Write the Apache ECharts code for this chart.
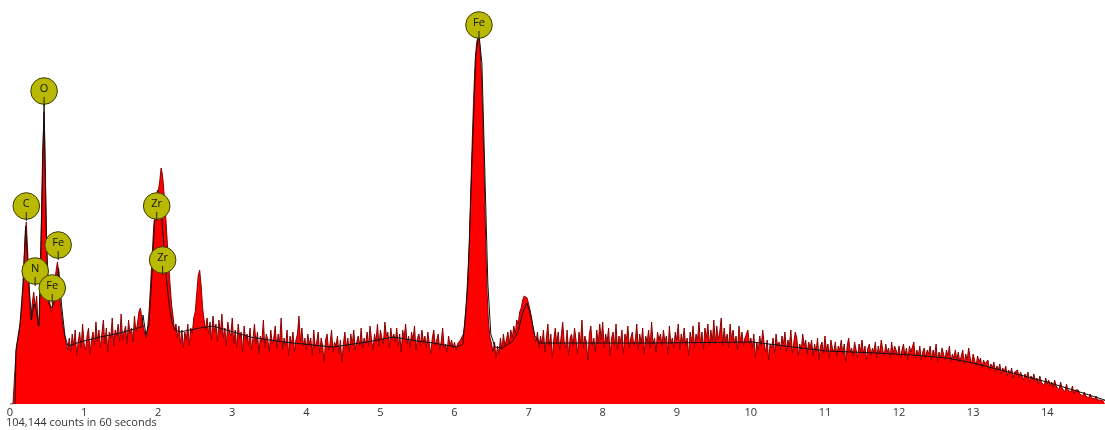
<!DOCTYPE html>
<html>
<head>
<meta charset="utf-8">
<script src="https://cdn.jsdelivr.net/npm/echarts@6/dist/echarts.min.js"></script>
<style>
html,body{margin:0;padding:0;background:#fff;}
#chart{width:1105px;height:430px;}
</style>
</head>
<body>
<div id="chart"></div>
<script>
// Channel width of the spectrum (keV)
const channelWidthKeV = 0.02;
// Spectrum counts (relative), one value per channel starting at 0 keV
const spectrumCounts = [
0,0,0,0,50,62,70,82,98,120,160,182,150,110,84,100,112,96,108,78,90,170,250,292,220,140,108,100,92,104,118,132,142,130,100,88,76,68,60,54,
66,52,70,58,74,48,62,72,56,80,60,54,68,76,50,64,72,58,82,62,
74,56,70,84,60,76,52,72,66,86,58,74,68,80,62,90,64,72,78,60,
84,70,76,62,88,72,80,92,96,86,
84,70,66,78,96,122,150,178,192,205,212,222,236,228,210,190,165,140,120,100,
88,74,80,66,78,60,74,56,72,64,80,58,76,70,86,92,110,128,134,118,
96,84,74,86,70,82,64,88,72,80,
62,84,70,90,66,76,58,82,72,68,86,60,74,56,80,66,72,52,78,64,
70,58,76,54,66,80,60,72,50,68,62,84,56,70,64,52,74,60,66,78,
56,70,62,86,54,66,58,74,48,68,60,72,52,64,70,88,62,76,58,66,
54,70,60,66,48,74,56,62,72,50,66,58,42,64,70,54,60,74,52,62,
58,68,50,64,42,60,72,56,66,52,70,60,74,54,62,68,58,76,56,66,
60,72,58,78,64,54,70,62,80,58,74,66,60,82,68,72,56,76,64,70,
62,76,58,70,52,74,66,80,60,68,56,72,64,78,54,66,70,58,74,62,
68,56,72,60,50,66,74,58,64,70,54,62,76,56,60,52,68,58,64,56,62,54,60,58,64,
64,70,80,100,130,160,215,265,310,345,362,368,360,335,290,230,165,110,80,66,
60,52,62,46,58,50,66,54,70,58,64,72,60,74,66,78,70,84,80,92,
96,104,108,110,106,100,94,86,76,68,62,72,56,68,60,
74,52,66,80,58,70,46,64,76,60,72,54,68,82,62,56,74,48,66,70,
58,76,64,50,72,60,84,56,68,62,44,70,78,58,66,52,74,60,80,64,
82,56,70,62,76,48,66,72,58,80,54,68,62,74,50,70,64,78,56,66,
72,58,64,80,54,70,60,76,50,68,62,74,56,82,60,66,52,72,64,70,
58,74,62,68,50,78,60,66,56,72,64,80,54,70,62,76,58,66,48,72,
62,78,56,70,64,82,60,72,54,76,66,80,58,74,62,84,60,78,64,72,
86,58,76,62,70,56,80,64,74,60,68,54,78,62,72,58,66,64,74,60,
66,56,70,46,62,54,68,58,74,60,52,64,44,60,56,66,50,70,58,62,
54,68,60,72,52,64,58,74,50,62,72,66,48,60,54,70,58,64,50,62,
56,64,48,60,52,66,44,58,62,50,68,54,60,46,64,56,52,62,48,58,
54,64,50,60,42,58,66,52,56,48,62,54,46,60,52,64,50,58,44,56,
60,48,56,52,62,46,58,50,64,54,48,60,52,56,46,62,50,58,54,48,
58,46,54,60,48,56,44,58,52,50,62,46,54,48,58,44,52,56,46,54,
50,58,44,54,48,60,42,52,46,56,50,44,54,48,58,42,50,46,54,44,
52,42,48,54,40,50,44,56,46,40,50,44,38,48,42,46,36,44,40,38,
44,34,40,36,42,32,38,34,40,30,36,32,38,28,34,30,36,26,32,30,
34,26,32,28,24,30,26,32,22,28,24,30,22,26,20,28,22,24,18,26,
20,24,18,22,16,24,18,20,14,22,16,18,12,20,14,16,12,18,10,14,
12,14,10,12,8,12,8,10,6,10,6,8,5,8,4,6,4,5,3,4
];
// Fitted curve (keV, counts)
const fitKeV = [0.07,0.08,0.135,0.175,0.21,0.256,0.29,0.324,0.35,0.39,0.425,0.46,0.49,0.526,0.567,0.607,0.655,0.70,0.742,0.783,
0.945,1.215,1.484,1.727,1.78,1.795,1.835,1.876,1.916,1.957,1.99,2.024,2.065,2.105,2.146,2.186,2.227,2.294,2.564,2.74,
3.24,3.684,4.36,4.818,5.169,5.493,5.709,6.032,6.113,6.18,6.235,6.289,6.33,6.37,6.41,6.45,6.49,6.545,6.64,6.775,
6.856,6.923,6.977,7.031,7.085,7.152,8.77,10.027,10.567,11.026,11.70,12.186,12.645,12.996,13.536,13.995,14.44,14.777];
const fitCounts = [0,54,80,120,178,120,84,100,95,78,180,300,170,100,96,104,136,96,68,58,
62,67,71,76,77,89,69,80,130,190,214,205,170,130,100,82,74,72,76,78,
67,62,57,62,67,63,61,57,60,120,240,350,370,340,230,120,70,57,56,62,
72,92,101,88,68,61,61,62,57,53,51,49,46,41,31,22,12,4];
// Element peak labels: name, circle centre (keV, counts)
const peakNames = ['Fe','O','C','Fe','N','Fe','Zr','Zr'];
const peakKeV = [6.33,0.46,0.22,0.65,0.34,0.57,1.98,2.06];
const peakCounts = [379,313,198,159,133,116,198,144];
// Axis ticks
const tickValues = [0,1,2,3,4,5,6,7,8,9,10,11,12,13,14];
const footerText = '104,144 counts in 60 seconds';

const spectrumData = spectrumCounts.map((v, i) => [+(i * channelWidthKeV).toFixed(3), v]);
const fitData = fitKeV.map((e, i) => [e, fitCounts[i]]);
const peakData = peakNames.map((n, i) => [peakKeV[i], peakCounts[i], n]);

const FONT = '"Open Sans", "Noto Sans", sans-serif';
const chart = echarts.init(document.getElementById('chart'), null, {renderer: 'canvas'});
chart.setOption({
  animation: false,
  backgroundColor: '#fff',
  grid: {left: 10, right: 0, top: 0, bottom: 26, containLabel: false},
  xAxis: {
    type: 'value', min: 0, max: 14.78, interval: 1,
    axisLine: {show: false}, axisTick: {show: false}, splitLine: {show: false},
    axisLabel: {
      show: true, margin: 3, color: '#333', fontSize: 11, fontFamily: FONT,
      showMaxLabel: false,
      formatter: v => tickValues.indexOf(Math.round(v)) >= 0 && Math.abs(v - Math.round(v)) < 1e-6 ? String(Math.round(v)) : ''
    }
  },
  yAxis: {
    type: 'value', min: 0, max: 404, show: false,
    splitLine: {show: false}
  },
  series: [
    {
      type: 'line', data: spectrumData, symbol: 'none', sampling: null,
      lineStyle: {color: '#8a0000', width: 1},
      areaStyle: {color: '#ff0000', opacity: 1},
      z: 2
    },
    {
      type: 'line', data: fitData, symbol: 'none', smooth: false,
      lineStyle: {color: '#111', width: 1},
      z: 3
    },
    {
      type: 'custom', data: peakData, z: 10, clip: false,
      renderItem: function (params, api) {
        const p = api.coord([api.value(0), api.value(1)]);
        const name = peakNames[params.dataIndex];
        return {
          type: 'group',
          children: [
            {type: 'circle', shape: {cx: p[0], cy: p[1], r: 13.3},
             style: {fill: '#b8b900', stroke: '#3d3d05', lineWidth: 1}},
            {type: 'line', shape: {x1: p[0], y1: p[1] + 6, x2: p[0], y2: p[1] + 15},
             style: {stroke: '#222', lineWidth: 1}},
            {type: 'text', x: p[0], y: p[1] - 2,
             style: {text: name, fill: '#111', font: '11px ' + FONT, align: 'center', verticalAlign: 'middle'}}
          ]
        };
      }
    }
  ],
  graphic: [
    {type: 'text', left: 6, top: 417,
     style: {text: footerText, fill: '#333', font: '11px ' + FONT}}
  ]
});
</script>
</body>
</html>
